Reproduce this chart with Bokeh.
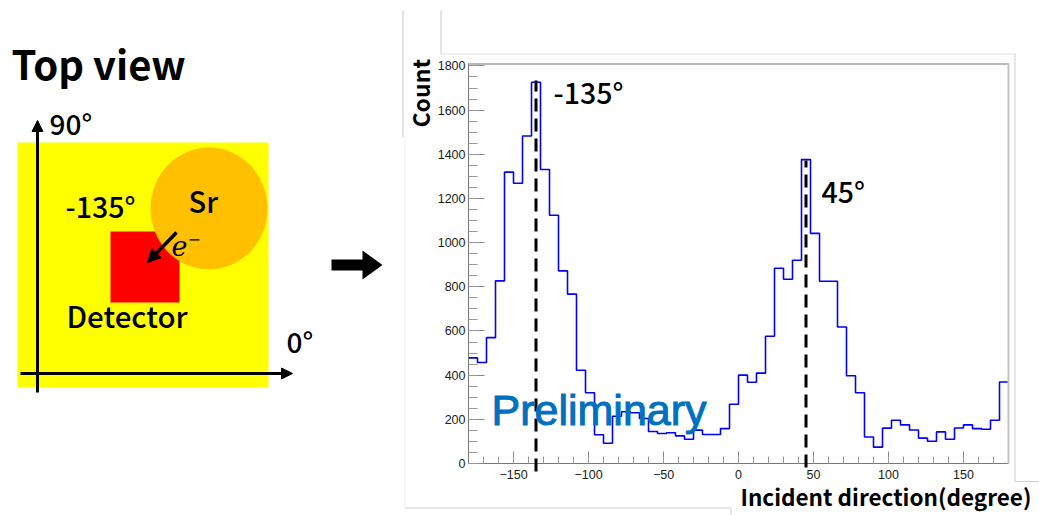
import numpy as np
from bokeh.embed import file_html
from bokeh.layouts import column
from bokeh.models import Arrow, FixedTicker, Label, NormalHead, Range1d
from bokeh.plotting import figure
from bokeh.resources import INLINE

# ---- data -------------------------------------------------------------
bin_start = -180
bin_width = 6
counts = [478, 457, 570, 827, 1319, 1269, 1483, 1726, 1331, 1124,
          872, 767, 422, 320, 130, 92, 214, 234, 230, 204,
          145, 136, 139, 125, 110, 151, 131, 131, 158, 268,
          400, 368, 409, 576, 884, 834, 920, 1376, 1042, 825,
          825, 618, 397, 320, 120, 74, 160, 196, 175, 152,
          115, 101, 143, 110, 161, 175, 158, 155, 196, 369]
x_ticks = [-150, -100, -50, 0, 50, 100, 150]
y_ticks = [0, 200, 400, 600, 800, 1000, 1200, 1400, 1600, 1800]
peak_angles = [-135, 45]
x_title = "Incident direction(degree)"
y_title = "Count"

JP = "Noto Sans CJK JP"
JPM = "Noto Sans CJK JP Medium"
TICK = "Liberation Sans"
W, H = 1039, 515

# ---- histogram with real axes -------------------------------------------
edges = bin_start + bin_width * np.arange(len(counts) + 1)
hist = figure(width=W, height=H, x_range=Range1d(-180, 180), y_range=Range1d(0, 1811),
              toolbar_location=None, output_backend="svg", outline_line_color=None,
              min_border_left=468, min_border_right=31, min_border_top=63, min_border_bottom=52)
hist.grid.visible = False
hist.step(edges, counts + [counts[-1]], mode="after", line_color="#0000FF", line_width=1.6)

for ax in (hist.xaxis, hist.yaxis):
    ax.axis_line_color = "#777777"
    ax.major_tick_line_color = "#888888"
    ax.minor_tick_line_color = "#999999"
    ax.major_tick_out = 0
    ax.minor_tick_out = 0
    ax.major_label_text_font = TICK
    ax.major_label_text_font_size = "12.5px"
    ax.major_label_text_color = "#1a1a1a"
hist.xaxis.ticker = FixedTicker(ticks=x_ticks, minor_ticks=list(range(-170, 180, 10)))
hist.yaxis.ticker = FixedTicker(ticks=y_ticks, minor_ticks=list(range(0, 1801, 50)))
hist.xaxis.major_tick_in = 12
hist.xaxis.minor_tick_in = 7
hist.yaxis.major_tick_in = 16
hist.yaxis.minor_tick_in = 9
hist.xaxis.major_label_standoff = 6
hist.yaxis.major_label_standoff = 3

# ---- transparent full-page layer, plotted in page pixels -----------------
top = figure(width=W, height=H, x_range=Range1d(0, W), y_range=Range1d(H, 0),
             toolbar_location=None, output_backend="svg", min_border=0,
             outline_line_color=None, x_axis_location=None, y_axis_location=None,
             background_fill_alpha=0, border_fill_alpha=0)
top.grid.visible = False


def text(txt, x, y, size, font=JPM, style="normal", color="black", lift=0.5, **kw):
    top.add_layout(Label(x=x, y=y - lift * size, text=txt, text_font=font, text_font_size=f"{size}px",
                         text_font_style=style, text_color=color, text_baseline="alphabetic", **kw))


def line(x0, y0, x1, y1, color, lw=1.0, dash="solid"):
    top.add_layout(Arrow(x_start=x0, y_start=y0, x_end=x1, y_end=y1, end=None,
                         line_color=color, line_width=lw, line_dash=dash))


def arrow(x0, y0, x1, y1, lw, head):
    top.add_layout(Arrow(x_start=x0, y_start=y0, x_end=x1, y_end=y1, line_color="black", line_width=lw,
                         end=NormalHead(size=head, fill_color="black", line_color="black", line_width=1)))


def angle_px(a):
    return 468 + (a + 180) * 1.5


# schematic
top.quad(left=17, right=268, top=142, bottom=387, fill_color="#FFFF00", line_color=None)
top.quad(left=110, right=179, top=231, bottom=302, fill_color="#FF0000", line_color=None)
top.ellipse(x=208.5, y=208, width=117, height=122, fill_color="#FFC000", line_color=None)
arrow(37, 392, 37, 120, 3, 11)
arrow(20, 373, 292, 373, 3, 11)
arrow(176, 232, 147, 262, 3.5, 13)
top.patch(x=[331, 362, 362, 382, 362, 362, 331], y=[259, 259, 250, 264.5, 279, 270, 270],
          fill_color="black", line_color=None)

text("Top view", 11, 82, 40, font=JP, style="bold")
text("90°", 49, 136, 28)
text("-135°", 65, 219, 28.5)
text("Sr", 188, 214, 29)
text("Detector", 66, 329, 29.5)
text("0°", 286, 354, 28)
text("e", 171, 258, 27, font="DejaVu Serif", style="italic")
text("−", 187, 246, 16, font="DejaVu Serif")

# frame edges
line(468, 63.5, 1008, 63.5, "#777777", 1)
line(1008, 63, 1008, 463, "#c4c4c4", 2)

# leftovers of pasted panels
line(402.5, 10, 402.5, 137, "#c8c8c8")
line(440.5, 10, 440.5, 53, "#c8c8c8")
line(440, 53.5, 1015, 53.5, "#e2e2e2")
line(1014.5, 53, 1014.5, 481, "#d0d0d0")
line(1014.5, 481, 1039, 481, "#d0d0d0")
line(404.5, 137, 404.5, 507, "#eeeeee")
line(404, 507.5, 730.5, 507.5, "#d0d0d0")
line(730.5, 507, 730.5, 515, "#d0d0d0")

# peak markers
line(angle_px(peak_angles[0]), 471, angle_px(peak_angles[0]), 80, "black", 3, "13 7")
line(angle_px(peak_angles[1]), 467, angle_px(peak_angles[1]), 160, "black", 3, "13 7")

text("-135°", 553, 105, 28.5)
text("45°", 821, 204, 28.5)
text("Preliminary", 491, 431, 43, font="Liberation Sans", color="#0070C0", text_outline_color="#0070C0")
text(x_title, 740, 507, 22.5, font=JP, style="bold")
top.add_layout(Label(x=431 - 12, y=127, text=y_title, text_font=JP, text_font_size="23px", text_font_style="bold",
                     text_color="black", text_baseline="alphabetic", angle=90, angle_units="deg"))

page = column(column(hist), column(top, margin=(-H, 0, 0, 0)), spacing=0)
open("out.html", "w").write(file_html(page, INLINE))
